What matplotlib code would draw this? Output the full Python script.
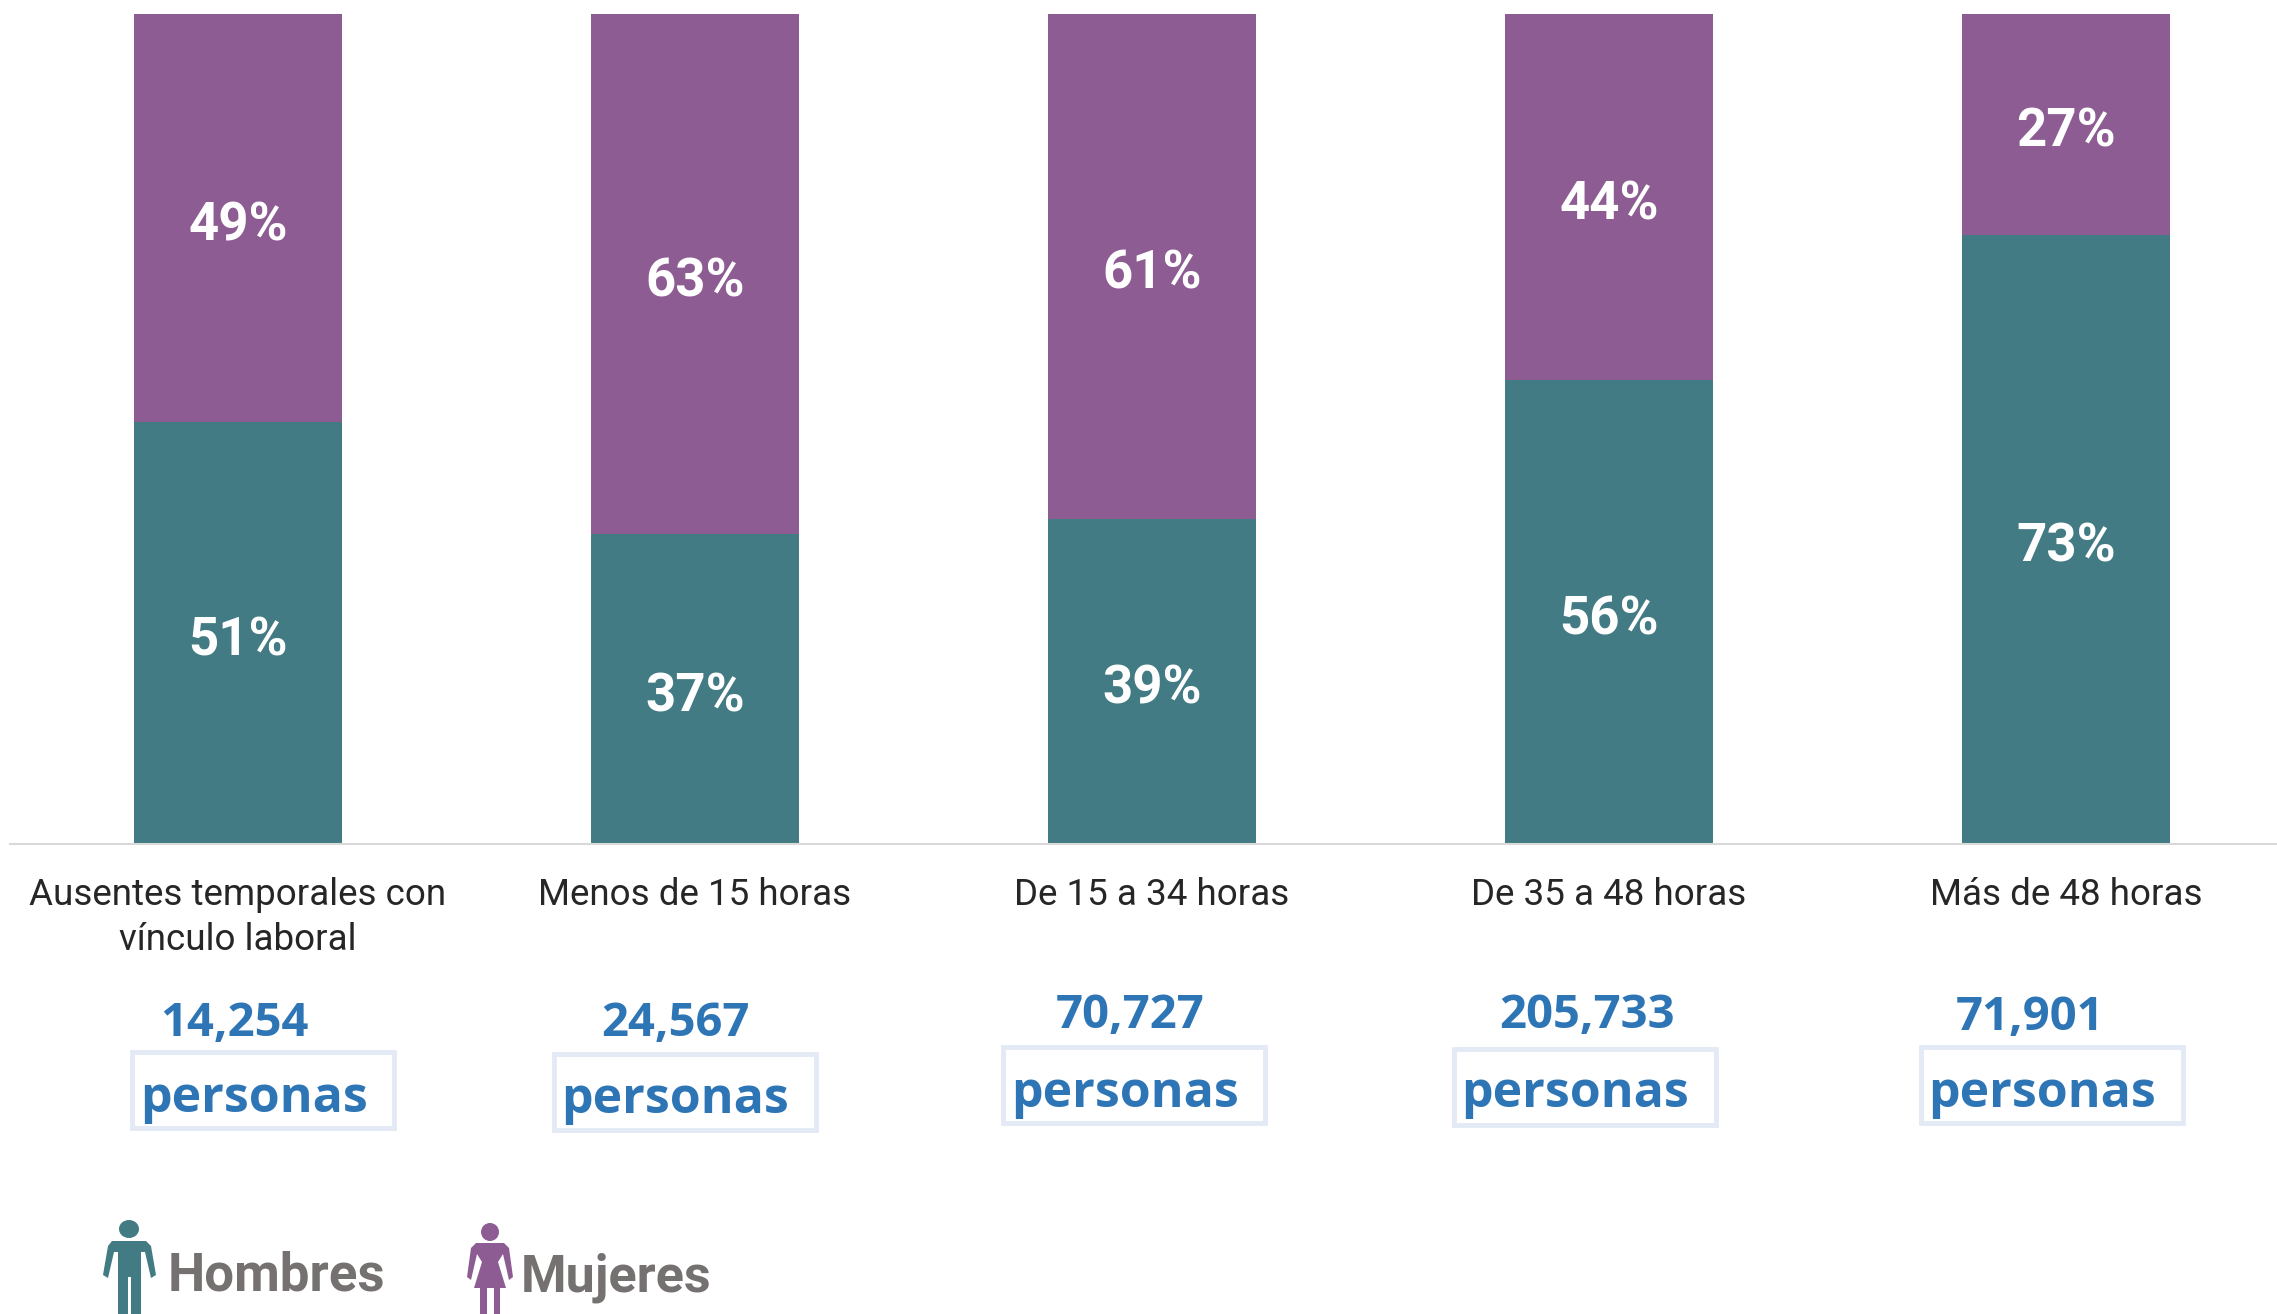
import matplotlib
matplotlib.use('Agg')
import matplotlib.pyplot as plt
from matplotlib.patches import Ellipse, Polygon, Rectangle

categories = ['Ausentes temporales con\nvínculo laboral', 'Menos de 15 horas', 'De 15 a 34 horas',
              'De 35 a 48 horas', 'Más de 48 horas']
hombres = [50.8, 37.3, 39.2, 55.9, 73.4]
mujeres = [49.2, 62.7, 60.8, 44.1, 26.6]
personas = ['14,254', '24,567', '70,727', '205,733', '71,901']

TEAL = '#427B83'
PURPLE = '#8D5C92'
BLUE = '#2E75B6'
GREY = '#767171'
BOX = '#E4EAF5'
W, H = 2277, 1314

plt.rcParams['font.family'] = ['Roboto', 'DejaVu Sans']

fig = plt.figure(figsize=(W / 100, H / 100), dpi=100)

# bars, first bar centre at px 238 and 457 px between bars
ax = fig.add_axes([10 / W, (H - 844) / H, (W - 10) / W, 830 / H])
x = list(range(len(categories)))
ax.bar(x, hombres, width=0.455, color=TEAL)
ax.bar(x, mujeres, width=0.455, bottom=hombres, color=PURPLE)
ax.set_xlim((10 - 238) / 457, (W - 238) / 457)
ax.set_ylim(0, 100)
ax.set_yticks([])
ax.set_xticks([])
for s in ['top', 'left', 'right']:
    ax.spines[s].set_visible(False)
ax.spines['bottom'].set_color('#D9D9D9')
ax.spines['bottom'].set_linewidth(1.5)

for i in x:
    ax.annotate(f'{hombres[i]:.0f}%', (i, hombres[i] / 2), xytext=(0, -5.5), textcoords='offset points',
                color='white', fontsize=38, fontweight='bold', ha='center', va='center')
    ax.annotate(f'{mujeres[i]:.0f}%', (i, hombres[i] + mujeres[i] / 2), xytext=(0, -5.5), textcoords='offset points',
                color='white', fontsize=38, fontweight='bold', ha='center', va='center')

# overlay in pixels for the text under the bars and the legend
ov = fig.add_axes([0, 0, 1, 1])
ov.set_xlim(0, W)
ov.set_ylim(H, 0)
ov.axis('off')
ov.patch.set_alpha(0)

for i, label in enumerate(categories):
    ov.text(238 + 457 * i, 877, label, color='#262626', fontsize=26.5, ha='center', va='top',
            linespacing=1.32)

num_pos = [(234, 1024), (675, 1024), (1130, 1015), (1587, 1015), (2030, 1017)]
word_pos = [(254, 1099), (675, 1100), (1125, 1094), (1575, 1094), (2042, 1094)]
box_pos = [(132, 1052), (554, 1054), (1003, 1047), (1454, 1049), (1921, 1047)]
for i in x:
    ov.text(num_pos[i][0], num_pos[i][1], personas[i], color=BLUE, fontsize=34, fontweight='bold',
            family=['Open Sans', 'DejaVu Sans'], ha='center', va='center')
    ov.add_patch(Rectangle(box_pos[i], 262, 76, fill=False, edgecolor=BOX, linewidth=3.5))
    ov.text(word_pos[i][0], word_pos[i][1], 'personas', color=BLUE, fontsize=36, fontweight='bold',
            family=['Open Sans', 'DejaVu Sans'], ha='center', va='center')

# man icon
ov.add_patch(Ellipse((129, 1229), 20, 18, color=TEAL, lw=0))
ov.add_patch(Polygon([(112, 1241), (146, 1241), (151, 1246), (156, 1275), (151, 1278), (145, 1252),
                      (141, 1252), (141, 1314), (131, 1314), (131, 1277), (128, 1277), (128, 1314),
                      (118, 1314), (118, 1252), (114, 1252), (108, 1278), (103, 1275), (108, 1246)],
                     closed=True, color=TEAL, lw=0))
ov.text(168, 1276, 'Hombres', color=GREY, fontsize=38, fontweight='bold', ha='left', va='center')

# woman icon
ov.add_patch(Ellipse((490, 1232), 18, 18, color=PURPLE, lw=0))
ov.add_patch(Polygon([(476, 1243), (504, 1243), (509, 1248), (513, 1277), (509, 1280), (503, 1254),
                      (498, 1262), (506, 1288), (500, 1288), (500, 1314), (494, 1314), (494, 1288),
                      (487, 1288), (487, 1314), (480, 1314), (480, 1288), (474, 1288), (482, 1262),
                      (477, 1254), (471, 1280), (467, 1277), (471, 1248)],
                     closed=True, color=PURPLE, lw=0))
ov.text(521, 1278, 'Mujeres', color=GREY, fontsize=37.5, fontweight='bold', ha='left', va='center')

fig.savefig('out.png', dpi=100)
